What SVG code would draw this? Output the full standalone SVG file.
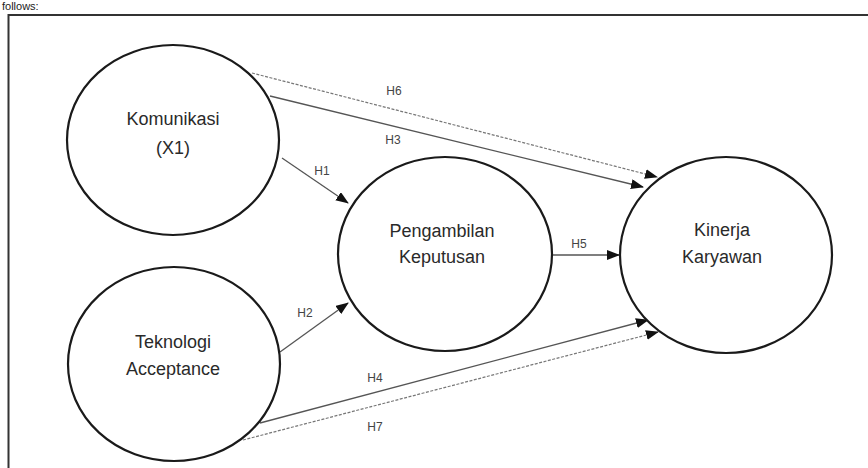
<svg xmlns="http://www.w3.org/2000/svg" width="868" height="468" viewBox="0 0 868 468">
<defs>
<style>
.node ellipse{fill:#fff;stroke:#1a1a1a;stroke-width:2.2}
.lbl{font-family:"Liberation Sans",Arial,sans-serif;font-size:18px;fill:#2a2a2a;text-anchor:middle}
.h{font-family:"Liberation Sans",Arial,sans-serif;font-size:12px;fill:#444;text-anchor:middle}
.solid{stroke:#555;stroke-width:1.3;fill:none;marker-end:url(#arr)}
.dash{stroke:#777;stroke-width:1.2;fill:none;stroke-dasharray:3 1.5;marker-end:url(#arr)}
</style>
<marker id="arr" markerUnits="userSpaceOnUse" markerWidth="13" markerHeight="10" refX="12" refY="5" orient="auto">
<path d="M0,0 L13,5 L0,10 z" fill="#111"/>
</marker>
</defs>
<rect width="868" height="468" fill="#fff"/>
<text x="2" y="10" font-family="'Liberation Sans',Arial,sans-serif" font-size="11" fill="#222">follows:</text>
<path d="M8.5,468 V15 H868" fill="none" stroke="#333" stroke-width="2"/>
<g id="connectors">
<line class="dash" x1="252" y1="73" x2="657" y2="177"/>
<line class="solid" x1="270" y1="96" x2="643" y2="187"/>
<line class="solid" x1="282" y1="158" x2="348" y2="203"/>
<line class="solid" x1="280" y1="352" x2="348" y2="303"/>
<line class="solid" x1="552" y1="255" x2="619" y2="255"/>
<line class="solid" x1="260" y1="423" x2="648" y2="320"/>
<line class="dash" x1="243" y1="440" x2="658" y2="332"/>
<text class="h" x="394" y="95">H6</text>
<text class="h" x="393" y="144">H3</text>
<text class="h" x="322" y="175">H1</text>
<text class="h" x="305" y="317">H2</text>
<text class="h" x="579" y="248">H5</text>
<text class="h" x="375" y="382">H4</text>
<text class="h" x="375" y="431">H7</text>
</g>
<g id="komunikasi" class="node">
<ellipse cx="173" cy="140" rx="106" ry="95"/>
<text class="lbl" x="173" y="125">Komunikasi</text>
<text class="lbl" x="173" y="154">(X1)</text>
</g>
<g id="teknologi" class="node">
<ellipse cx="174" cy="364" rx="106" ry="97"/>
<text class="lbl" x="173" y="348">Teknologi</text>
<text class="lbl" x="173" y="375">Acceptance</text>
</g>
<g id="pengambilan" class="node">
<ellipse cx="445" cy="254" rx="107" ry="97"/>
<text class="lbl" x="442" y="237">Pengambilan</text>
<text class="lbl" x="442" y="263">Keputusan</text>
</g>
<g id="kinerja" class="node">
<ellipse cx="726" cy="255" rx="106" ry="98"/>
<text class="lbl" x="722" y="236">Kinerja</text>
<text class="lbl" x="722" y="263">Karyawan</text>
</g>
</svg>
